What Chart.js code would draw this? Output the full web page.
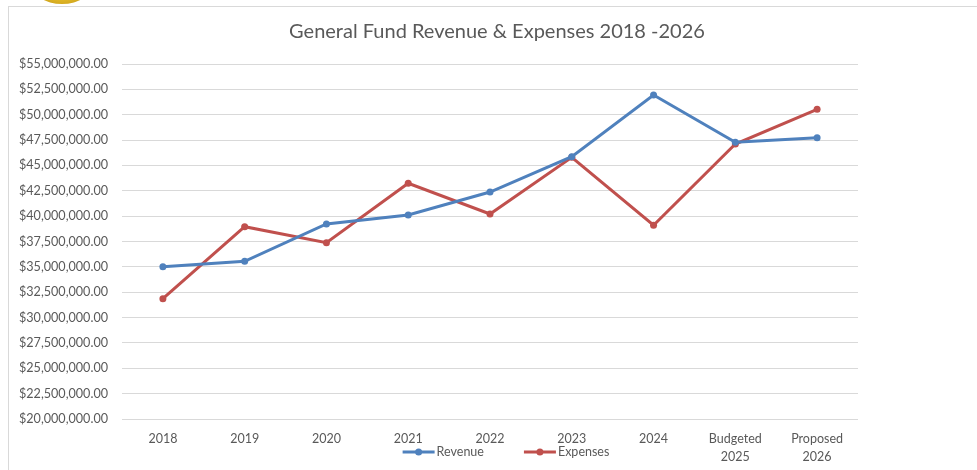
<!DOCTYPE html>
<html>
<head>
<meta charset="utf-8">
<script src="https://cdn.jsdelivr.net/npm/chart.js@4.4.1/dist/chart.umd.min.js"></script>
<style>
    html, body { margin: 0; padding: 0; background: #fff; overflow: hidden; }
    #wrap { position: relative; width: 977px; height: 470px; }
    #frame { position: absolute; left: 8px; top: 6px; width: 1000px; height: 500px; border: 1px solid #d9d9d9; box-sizing: border-box; }
    #logo { position: absolute; left: 31px; top: -38px; width: 62px; height: 42px; border-radius: 50%;
            background: radial-gradient(ellipse at 50% 30%, #f7e39a 0%, #e0b626 60%, #b38a10 100%); }
    #chart { position: absolute; left: 0; top: 0; }
</style>
</head>
<body>
<div id="wrap">
    <div id="frame"></div>
    <div id="logo"></div>
    <canvas id="chart" width="977" height="470"></canvas>
</div>
<script>
const years = ['2018', '2019', '2020', '2021', '2022', '2023', '2024', ['Budgeted', '2025'], ['Proposed', '2026']];
const revenue = [35000000, 35550000, 39230000, 40110000, 42380000, 45860000, 51940000, 47280000, 47740000];
const expenses = [31860000, 38960000, 37380000, 43240000, 40210000, 45800000, 39100000, 47110000, 50530000];
const yTicks = { min: 20000000, max: 55000000, step: 2500000 };

const fontFamily = 'Lato, "Open Sans", sans-serif';
const textColor = '#595959';

function money(v) {
    return '$' + Number(v).toLocaleString('en-US', { minimumFractionDigits: 2, maximumFractionDigits: 2 });
}

// legend drawn under the axis like the original (sits beside the 2nd label line)
const bottomLegend = {
    id: 'bottomLegend',
    afterDraw(chart) {
        const ctx = chart.ctx;
        const items = chart.data.datasets;
        ctx.save();
        ctx.font = '12.5px ' + fontFamily;
        const lineLen = 32, gap = 40, textGap = 2;
        const widths = items.map(d => lineLen + textGap + ctx.measureText(d.label).width);
        const total = widths.reduce((a, b) => a + b, 0) + gap * (items.length - 1);
        let x = 506 - total / 2;
        const y = 452;
        items.forEach((d, i) => {
            ctx.strokeStyle = d.borderColor;
            ctx.fillStyle = d.borderColor;
            ctx.lineWidth = 3;
            ctx.beginPath();
            ctx.moveTo(x, y);
            ctx.lineTo(x + lineLen, y);
            ctx.stroke();
            ctx.beginPath();
            ctx.arc(x + lineLen / 2, y, 3.5, 0, Math.PI * 2);
            ctx.fill();
            ctx.fillStyle = textColor;
            ctx.textBaseline = 'middle';
            ctx.textAlign = 'left';
            ctx.fillText(d.label, x + lineLen + textGap, y);
            x += widths[i] + gap;
        });
        ctx.restore();
    }
};

new Chart(document.getElementById('chart'), {
    type: 'line',
    data: {
        labels: years,
        datasets: [
            {
                label: 'Revenue',
                data: revenue,
                borderColor: '#4f81bd',
                backgroundColor: '#4f81bd',
                borderWidth: 3,
                pointRadius: 3.5,
                pointBorderWidth: 0,
                tension: 0
            },
            {
                label: 'Expenses',
                data: expenses,
                borderColor: '#c0504d',
                backgroundColor: '#c0504d',
                borderWidth: 3,
                pointRadius: 3.5,
                pointBorderWidth: 0,
                tension: 0
            }
        ]
    },
    options: {
        responsive: false,
        animation: false,
        layout: { padding: { left: 17, right: 0, top: 6, bottom: 0 } },
        plugins: {
            legend: { display: false },
            tooltip: { enabled: false },
            title: {
                display: true,
                text: 'General Fund Revenue & Expenses 2018 -2026',
                color: textColor,
                font: { family: fontFamily, size: 20, weight: 'normal' },
                padding: { top: 14, bottom: 20 }
            }
        },
        scales: {
            x: {
                offset: true,
                afterFit(scale) { scale.height = 51; },
                grid: { display: false, drawTicks: false },
                border: { display: false },
                ticks: {
                    color: textColor,
                    font: { family: fontFamily, size: 12.5, lineHeight: 1.45 },
                    maxRotation: 0,
                    padding: 11
                }
            },
            y: {
                min: yTicks.min,
                max: yTicks.max,
                afterFit(scale) { scale.width = 105; },
                grid: { color: '#d9d9d9', lineWidth: 1, drawTicks: false },
                border: { display: false },
                ticks: {
                    stepSize: yTicks.step,
                    color: textColor,
                    font: { family: fontFamily, size: 12.6 },
                    padding: 14,
                    callback: v => money(v)
                }
            },
            // empty right-hand axis only used to reserve space on the right
            yRight: {
                position: 'right',
                display: true,
                afterFit(scale) { scale.width = 119; },
                grid: { display: false, drawTicks: false },
                border: { display: false },
                ticks: { display: false }
            }
        }
    },
    plugins: [bottomLegend]
});
</script>
</body>
</html>
